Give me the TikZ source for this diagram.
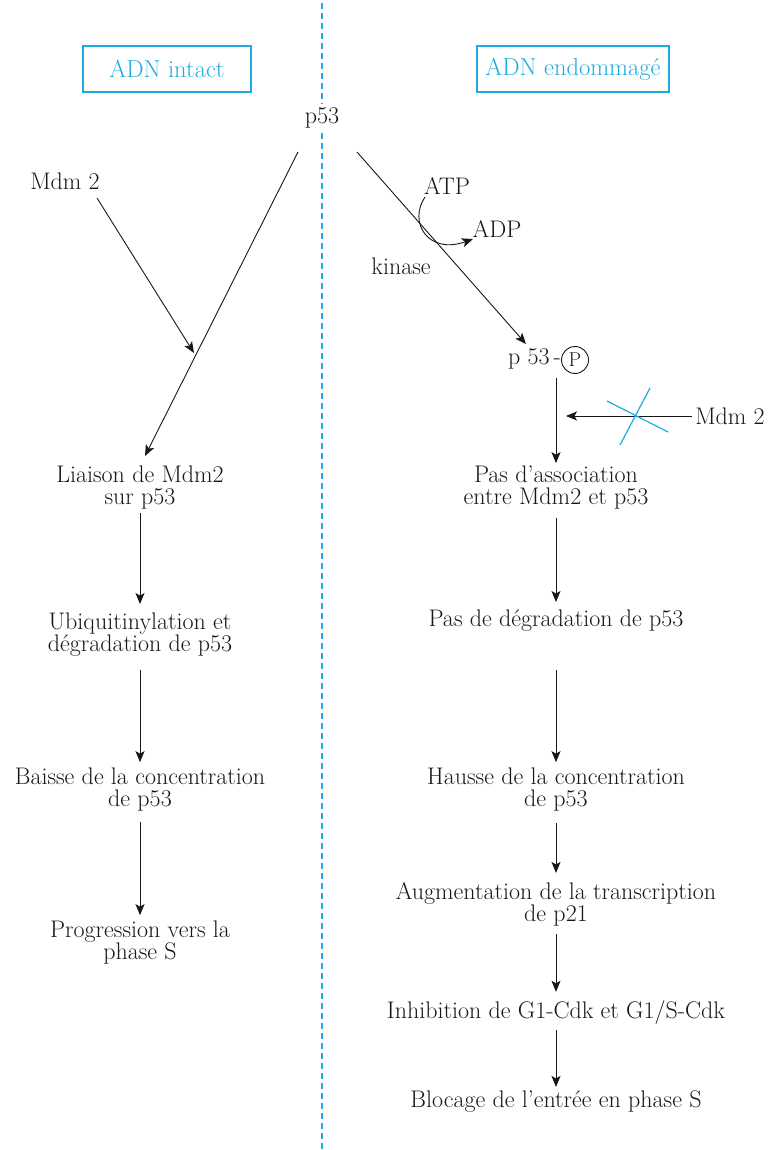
\documentclass[tikz,border=0pt]{standalone}
\usetikzlibrary{arrows.meta,calc}
\definecolor{cy}{RGB}{30,170,225}
\definecolor{ink}{RGB}{25,22,23}
\begin{document}
\begin{tikzpicture}[x=1pt,y=-1pt,
  every node/.style={font=\fontsize{24}{22}\selectfont,text=ink,inner sep=3pt},
  txt/.style={align=center},
  arr/.style={draw=ink,line width=0.9pt,-{Stealth[length=11pt,width=9pt,inset=2.5pt]}},
  hbox/.style={draw=cy,line width=1.3pt,text=cy,minimum height=46pt,inner sep=0pt,font=\fontsize{24.5}{22}\selectfont},
  cross/.style={draw=cy,line width=1.2pt}]
\useasboundingbox (0,0) rectangle (768,1150);
% divider
\draw[cy,line width=1.6pt,dash pattern=on 6pt off 4pt] (322,3) -- (322,1150);
% headers
\node[hbox,minimum width=168pt] (hint) at (167,69) {ADN intact};
\node[hbox,minimum width=192pt] (hdam) at (573,69) {ADN endommagé};
\node[fill=white,inner sep=4pt] (p53) at (322,118) {p53};
% left column
\coordinate (pL) at (298,152);
\coordinate (pR) at (357,152);
\node (mdmL) at (65,181) {Mdm 2};
\coordinate (mdmLs) at (97,198);
\coordinate (mdmLe) at (194,353);
\node[txt] (l1) at (140,488) {Liaison de Mdm2\\sur p53};
\node[txt] (l2) at (140,635) {Ubiquitinylation et\\dégradation de p53};
\node[txt] (l3) at (140,790) {Baisse de la concentration\\de p53};
\node[txt] (l4) at (140,943) {Progression vers la\\phase S};
\coordinate (l1t) at (145,456);
\draw[arr] (pL) -- (l1t);
\draw[arr] (mdmLs) -- (mdmLe);
\draw[arr,shorten >=6pt] (l1.south) -- (l2.north);
\draw[arr,shorten <=10pt,shorten >=3pt] (l2.south) -- (l3.north);
\draw[arr,shorten <=7pt,shorten >=3pt] (l3.south) -- (l4.north);
% right column
\node (atp) at (447,186) {ATP};
\node (adp) at (497,229) {ADP};
\node (kin) at (401,266) {kinase};
\coordinate (pPt) at (526,344);
\draw[arr] (pR) -- (pPt);
\coordinate (atps) at (425,197);
\coordinate (adpe) at (473,239);
\draw[arr] (atps) .. controls (408,222) and (428,255) .. (adpe);
\node[anchor=east,inner sep=0pt] (p53t) at (561,359) {p 53\,-};
\node[draw=ink,circle,line width=0.9pt,minimum size=27pt,inner sep=0pt,font=\fontsize{20}{20}\selectfont] (pc) at (575,360) {P};
\node[txt] (r1) at (556,488) {Pas d’association\\entre Mdm2 et p53};
\node[txt] (r2) at (556,621) {Pas de dégradation de p53};
\node[txt] (r3) at (556,790) {Hausse de la concentration\\de p53};
\node[txt] (r4) at (556,904) {Augmentation de la transcription\\de p21};
\node[txt] (r5) at (556,1012) {Inhibition de G1-Cdk et G1/S-Cdk};
\node[txt] (r6) at (556,1102) {Blocage de l’entrée en phase S};
\coordinate (pv) at (556,378);
\draw[arr] (pv) -- (r1.north);
\node (mdmR) at (730,416) {Mdm 2};
\coordinate (mdmRe) at (566,416);
\draw[arr] (mdmR.west) -- (mdmRe);
\coordinate (c1a) at (607,401);
\coordinate (c1b) at (668,432);
\coordinate (c2a) at (650,388);
\coordinate (c2b) at (620,445);
\draw[cross] (c1a) -- (c1b);
\draw[cross] (c2a) -- (c2b);
\coordinate (r2t) at (556,670);
\draw[arr,shorten <=5pt,shorten >=5pt] (r1.south) -- (r2.north);
\draw[arr,shorten >=3pt] (r2t) -- (r3.north);
\draw[arr,shorten <=8pt,shorten >=6pt] (r3.south) -- (r4.north);
\draw[arr,shorten <=5pt,shorten >=5pt] (r4.south) -- (r5.north);
\draw[arr,shorten <=3pt,shorten >=1pt] (r5.south) -- (r6.north);
\end{tikzpicture}
\end{document}
